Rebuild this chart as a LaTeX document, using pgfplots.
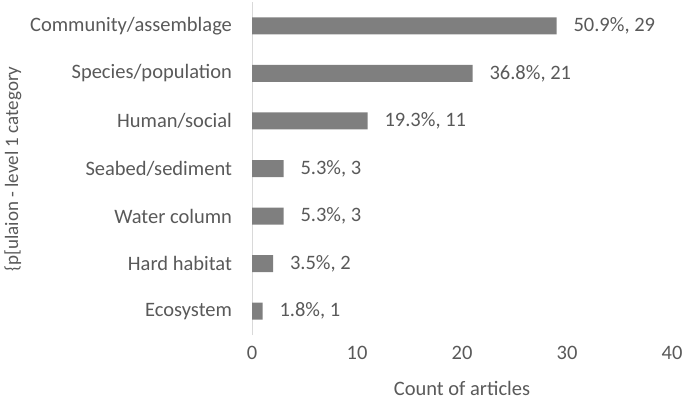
\documentclass[border=0pt]{standalone}
\usepackage{pgfplots}
\pgfplotsset{compat=1.18}
\usepackage{fontspec}
\setmainfont{Carlito}
\definecolor{txt}{HTML}{595959}
\definecolor{barc}{HTML}{7F7F7F}
\definecolor{axc}{HTML}{D9D9D9}
\newcommand{\fs}{\fontsize{20.5bp}{24bp}\selectfont}
\begin{document}
\fs
\begin{tikzpicture}[x=1bp,y=1bp]
\path[use as bounding box] (0,0) rectangle (685,401);
\begin{axis}[at={(252bp,66bp)}, anchor=south west, scale only axis,
  width=420bp, height=333bp,
  xmin=0, xmax=40, ymin=-0.5, ymax=6.5,
  xbar, bar width=17bp,
  axis x line*=bottom, axis y line*=left,
  x axis line style={draw=none},
  y axis line style={draw=axc, line width=1bp},
  major tick length=0pt,
  xtick={0,10,20,30,40},
  ytick={0,1,2,3,4,5,6},
  yticklabels={Ecosystem,Hard habitat,Water column,Seabed/sediment,Human/social,Species/population,Community/assemblage},
  tick label style={font=\fs, text=txt},
  /pgf/number format/assume math mode=true,
  xticklabel style={anchor=center, yshift=-18bp},
  yticklabel style={anchor=east, xshift=-13bp},
  xlabel={Count of articles},
  xlabel style={at={(axis description cs:0.5,0)}, anchor=center, yshift=-53bp, text=txt, font=\fs},
  point meta=explicit symbolic,
  nodes near coords,
  nodes near coords style={anchor=west, xshift=10bp, text=txt, font=\fs},
  clip=false,
]
\addplot[fill=barc, draw=none] coordinates {
  (1,0) [1.8\%, 1]
  (2,1) [3.5\%, 2]
  (3,2) [5.3\%, 3]
  (3,3) [5.3\%, 3]
  (11,4) [19.3\%, 11]
  (21,5) [36.8\%, 21]
  (29,6) [50.9\%, 29]
};
\end{axis}
\node[rotate=90, text=txt, font=\fontsize{19bp}{22bp}\selectfont, anchor=center] at (13,232) {\{p[ulaion - level 1 category};
\end{tikzpicture}
\end{document}
